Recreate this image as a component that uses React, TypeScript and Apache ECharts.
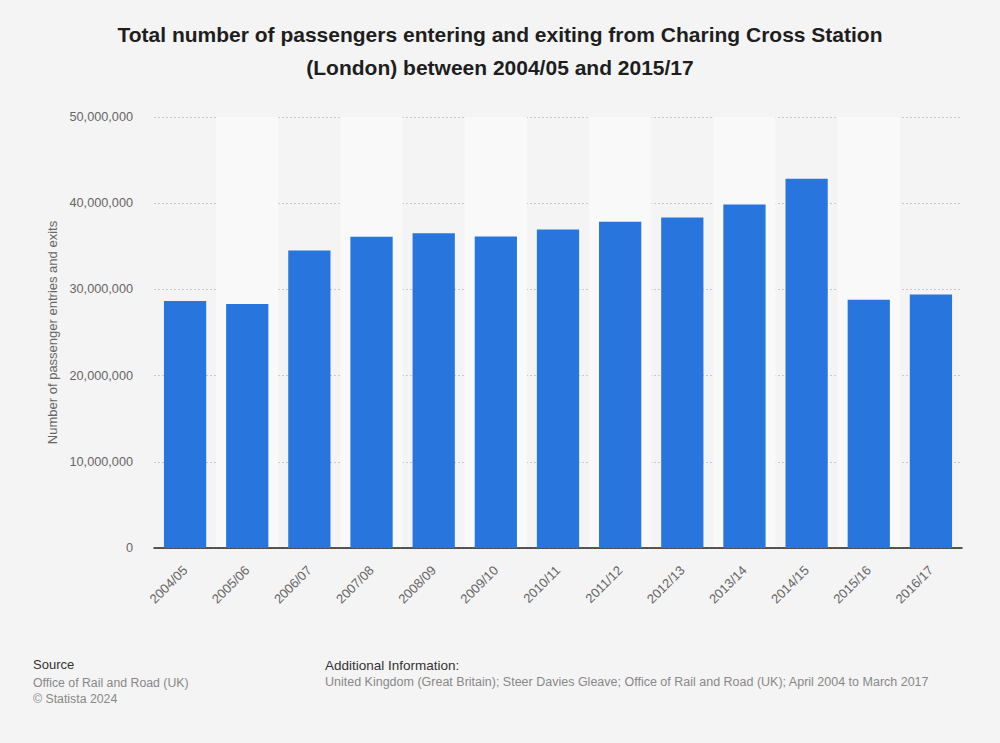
import React, { useEffect, useRef } from "react";
import * as echarts from "echarts";

const categories = [
  "2004/05", "2005/06", "2006/07", "2007/08", "2008/09", "2009/10", "2010/11",
  "2011/12", "2012/13", "2013/14", "2014/15", "2015/16", "2016/17",
];
const passengers = [
  28650000, 28300000, 34500000, 36100000, 36500000, 36150000, 36950000,
  37850000, 38350000, 39850000, 42850000, 28800000, 29400000,
];
const yTicks = [0, 10000000, 20000000, 30000000, 40000000, 50000000];

const titleLines = [
  "Total number of passengers entering and exiting from Charing Cross Station",
  "(London) between 2004/05 and 2015/17",
];
const yAxisName = "Number of passenger entries and exits";
const sourceLines = ["Office of Rail and Road (UK)", "© Statista 2024"];
const additionalInfo =
  "United Kingdom (Great Britain); Steer Davies Gleave; Office of Rail and Road (UK); April 2004 to March 2017";

const fmt = (v: number) => v.toLocaleString("en-US");

export default function App() {
  const ref = useRef<HTMLDivElement>(null);
  useEffect(() => {
    if (!ref.current) return;
    const chart = echarts.init(ref.current, null, { renderer: "svg" });
    const font = "Arial, 'Liberation Sans', Helvetica, sans-serif";
    chart.setOption({
      animation: false,
      backgroundColor: "#f4f4f4",
      textStyle: { fontFamily: font },
      title: {
        text: titleLines.join("\n"),
        left: "center",
        top: 13,
        textStyle: {
          fontSize: 21,
          fontWeight: "bold",
          color: "#1e1e1e",
          lineHeight: 33,
          fontFamily: font,
        },
      },
      grid: { left: 154, right: 38, top: 117, bottom: 195, containLabel: false },
      xAxis: {
        type: "category",
        data: categories,
        axisLine: { show: true, lineStyle: { color: "#222", width: 1.5 } },
        axisTick: { show: false },
        axisLabel: {
          rotate: 45,
          color: "#666",
          fontSize: 13,
          margin: 20,
          interval: 0,
          fontFamily: font,
        },
        splitArea: {
          show: true,
          areaStyle: { color: ["rgba(0,0,0,0)", "#f9f9f9"] },
        },
      },
      yAxis: {
        type: "value",
        min: yTicks[0],
        max: yTicks[yTicks.length - 1],
        interval: yTicks[1] - yTicks[0],
        name: yAxisName,
        nameLocation: "middle",
        nameGap: 94,
        nameTextStyle: { color: "#666", fontSize: 13, fontFamily: font },
        axisLine: { show: false },
        axisTick: { show: false },
        axisLabel: {
          color: "#666",
          fontSize: 12.7,
          margin: 21,
          formatter: (v: number) => fmt(v),
          fontFamily: font,
        },
        splitLine: {
          show: true,
          lineStyle: { color: "#c8c8c8", type: [2, 2], width: 1 },
        },
      },
      series: [
        {
          type: "bar",
          data: passengers,
          barWidth: "68%",
          itemStyle: { color: "#2876dd" },
        },
      ],
      graphic: [
        {
          type: "text",
          left: 33,
          top: 658,
          style: { text: "Source", fontSize: 13, fill: "#333", fontFamily: font },
        },
        {
          type: "text",
          left: 33,
          top: 675,
          style: {
            text: sourceLines.join("\n"),
            fontSize: 12.3,
            lineHeight: 16,
            fill: "#888",
            fontFamily: font,
          },
        },
        {
          type: "text",
          left: 325,
          top: 658,
          style: { text: "Additional Information:", fontSize: 13.5, fill: "#333", fontFamily: font },
        },
        {
          type: "text",
          left: 325,
          top: 675,
          style: { text: additionalInfo, fontSize: 12.5, fill: "#888", fontFamily: font },
        },
      ],
    });
    return () => chart.dispose();
  }, []);
  return (
    <div
      ref={ref}
      style={{ position: "absolute", left: 0, top: 0, width: 1000, height: 743 }}
    />
  );
}
